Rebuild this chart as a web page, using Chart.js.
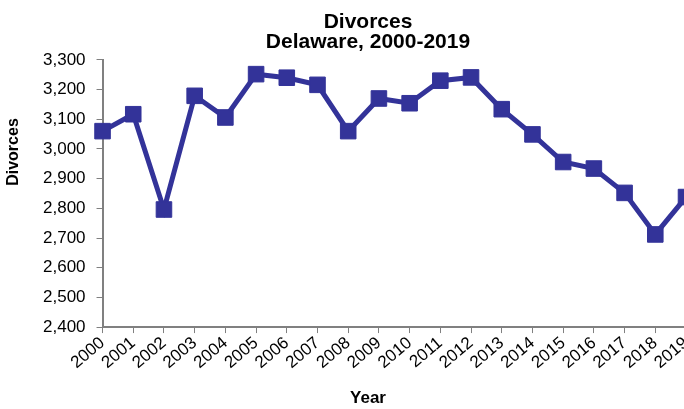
<!DOCTYPE html>
<html>
<head>
<meta charset="utf-8">
<script src="https://cdn.jsdelivr.net/npm/chart.js@4"></script>
<style>
  html, body { margin: 0; padding: 0; background: #fff; overflow: hidden; }
  #wrap { width: 740px; height: 409px; position: relative; }
</style>
</head>
<body>
<div id="wrap"><canvas id="divChart"></canvas></div>
<script>
// data
var years = ["2000","2001","2002","2003","2004","2005","2006","2007","2008","2009",
             "2010","2011","2012","2013","2014","2015","2016","2017","2018","2019"];
var divorces = [3060, 3117, 2796, 3179, 3106, 3252, 3240, 3216, 3060, 3170,
                3154, 3230, 3241, 3134, 3049, 2956, 2934, 2852, 2712, 2838];
var yMin = 2400;
var yMax = 3300;
var yStep = 100;
var titleLines = ['Divorces', 'Delaware, 2000-2019'];
var xTitle = 'Year';
var yTitle = 'Divorces';

var lineColor = '#333399';
var axisColor = '#808080';
var fontFam = "'Liberation Sans', Arial, sans-serif";
var textMid = 368; // the reference centres its texts on the page, not on the plot

// axis titles sit where the reference has them, not centred on the plot area
var axisTitles = {
    id: 'axisTitles',
    afterLayout: function (chart) {
        // shift the title block so the title is centred like the reference
        var t = chart.titleBlock;
        if (t) { t.left = textMid - 200; t.right = textMid + 200; t.width = 400; }
    },
    afterDraw: function (chart) {
        var c = chart.ctx;
        c.save();
        c.fillStyle = '#000';
        c.font = 'bold 17px ' + fontFam;
        c.textAlign = 'center';
        c.textBaseline = 'middle';
        c.fillText(xTitle, textMid, 398);
        c.translate(14, 152);
        c.rotate(-Math.PI / 2);
        c.font = 'bold 16px ' + fontFam;
        c.fillText(yTitle, 0, 0);
        c.restore();
    }
};

let ctx = document.getElementById("divChart").getContext('2d');

let lineChart = new Chart(ctx, {
    type: 'line',
    data: {
        labels: years,
        datasets: [{
            label: 'Divorces',
            data: divorces,
            borderColor: lineColor,
            backgroundColor: lineColor,
            borderWidth: 5,
            pointStyle: 'rect',
            pointRadius: 11,
            pointBorderWidth: 1,
            pointBackgroundColor: lineColor,
            pointBorderColor: lineColor,
            tension: 0,
            clip: false
        }]
    },
    plugins: [axisTitles],
    options: {
        responsive: true,
        maintainAspectRatio: false,
        animation: false,
        layout: {
            padding: { left: 32, right: 54, top: 0, bottom: 36 }
        },
        plugins: {
            legend: { display: false },
            tooltip: { enabled: false },
            title: {
                display: true,
                text: titleLines,
                color: '#000',
                font: { family: fontFam, size: 21, weight: 'bold', lineHeight: 0.95 },
                padding: { top: 12, bottom: 8 }
            }
        },
        scales: {
            x: {
                offset: false,
                grid: {
                    display: true,
                    drawOnChartArea: false,
                    drawTicks: true,
                    tickLength: 6,
                    color: axisColor
                },
                border: { color: axisColor, width: 2 },
                ticks: {
                    color: '#000',
                    maxRotation: 40,
                    minRotation: 40,
                    autoSkip: false,
                    padding: 0,
                    font: { family: fontFam, size: 17 }
                }
            },
            y: {
                min: yMin,
                max: yMax,
                grid: {
                    display: true,
                    drawOnChartArea: false,
                    drawTicks: true,
                    tickLength: 6,
                    color: axisColor
                },
                border: { color: axisColor, width: 2 },
                ticks: {
                    stepSize: yStep,
                    color: '#000',
                    padding: 11,
                    font: { family: fontFam, size: 17 },
                    callback: function (v) { return v.toLocaleString('en-US'); }
                }
            }
        }
    }
});
</script>
</body>
</html>
